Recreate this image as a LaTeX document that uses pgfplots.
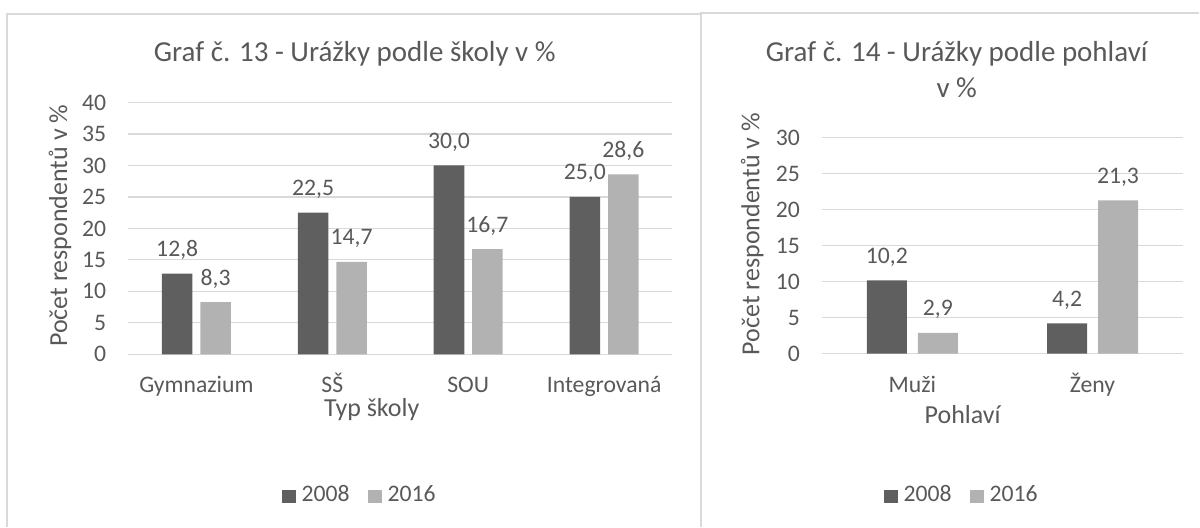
\documentclass[border=0pt]{standalone}
\usepackage{fontspec}
\setmainfont{Carlito}
\usepackage{pgfplots}
\pgfplotsset{compat=1.18}

\definecolor{txt}{HTML}{595959}
\definecolor{dark}{HTML}{5F5F5F}
\definecolor{light}{HTML}{B2B2B2}
\definecolor{grd}{HTML}{D9D9D9}

\newcommand{\ticksize}{\fontsize{11.85pt}{14pt}\selectfont}
\newcommand{\labsize}{\fontsize{13pt}{15pt}\selectfont}
\newcommand{\titsize}{\fontsize{14.5pt}{18pt}\selectfont}

\pgfplotsset{
  barchart/.style={
    scale only axis,
    ybar,
    ymin=0,
    enlargelimits=false,
    axis line style={draw=none},
    major tick length=0pt,
    tick style={draw=none},
    ymajorgrids,
    grid style={grd, line width=0.6pt},
    xtick=data,
    /pgf/number format/assume math mode=true,
    ticklabel style={font=\ticksize, text=txt},
    yticklabel style={anchor=east, inner sep=0pt, xshift=-11pt},
    xticklabel style={anchor=base, inner sep=0pt},
    nodes near coords={\pgfmathprintnumber[fixed,fixed zerofill,precision=1,use comma]{\pgfplotspointmeta}},
    every node near coord/.append style={font=\ticksize, text=txt, anchor=base, inner sep=0pt, yshift=8.5pt},
    every axis plot/.append style={
      draw=none,
      legend image code/.code={\fill[##1] (0pt,-3.75pt) rectangle (7pt,2.75pt);}
    },
    legend columns=2,
    legend cell align=left,
    legend style={draw=none, fill=none, font=\ticksize, text=txt, anchor=center,
      inner sep=0pt, nodes={inner sep=0pt},
      /tikz/every odd column/.append style={column sep=3pt},
      /tikz/every even column/.append style={column sep=9pt}},
  }
}

\begin{document}
\begin{tikzpicture}
\path (0,0) rectangle (600pt,-263.5pt);

% frames
\draw[grd, line width=1pt] (3.5pt,-263.5pt) -- (3.5pt,-7pt) -- (351pt,-7pt);
\draw[grd, line width=1pt] (351pt,-263.5pt) -- (351pt,-6.5pt) -- (600pt,-6.5pt);

% chart 13
\node[anchor=base, text=txt, font=\titsize] at (177.5pt,-30.75pt) {Graf č. 13 - Urážky podle školy v \%};
\node[rotate=90, text=txt, font=\labsize] at (30pt,-113pt) {Počet respondentů v \%};
\node[anchor=base, text=txt, font=\labsize] at (186pt,-208.5pt) {Typ školy};

\begin{axis}[barchart,
    at={(64.3pt,-177.3pt)}, anchor=south west,
    width=272pt, height=126pt,
    xmin=-0.5, xmax=3.5, ymax=40,
    ytick={0,5,...,40},
    xticklabels={Gymnazium, SŠ, SOU, Integrovaná},
    xticklabel style={yshift=-19.2pt},
    bar width=15.3pt, ybar=3.95pt,
    legend style={at={(0.4235,-0.56)}},
]
\addplot[fill=dark] coordinates {(0,12.8) (1,22.5) (2,30.0) (3,25.0)};
\addplot[fill=light] coordinates {(0,8.3) (1,14.7) (2,16.7) (3,28.6)};
\legend{2008, 2016}
\end{axis}

% chart 14
\node[anchor=base, text=txt, font=\titsize] at (478.75pt,-30.75pt) {Graf č. 14 - Urážky podle pohlaví};
\node[anchor=base, text=txt, font=\titsize] at (478.75pt,-48.75pt) {v \%};
\node[rotate=90, text=txt, font=\labsize] at (376.5pt,-117.25pt) {Počet respondentů v \%};
\node[anchor=base, text=txt, font=\labsize] at (481.75pt,-212pt) {Pohlaví};

\begin{axis}[barchart,
    at={(411.5pt,-177pt)}, anchor=south west,
    width=180.3pt, height=108pt,
    xmin=-0.5, xmax=1.5, ymax=30,
    ytick={0,5,...,30},
    xticklabels={Muži, Ženy},
    xticklabel style={yshift=-19.5pt},
    bar width=20pt, ybar=5.5pt,
    legend style={at={(0.384,-0.656)}},
]
\addplot[fill=dark] coordinates {(0,10.2) (1,4.2)};
\addplot[fill=light] coordinates {(0,2.9) (1,21.3)};
\legend{2008, 2016}
\end{axis}
\end{tikzpicture}
\end{document}
